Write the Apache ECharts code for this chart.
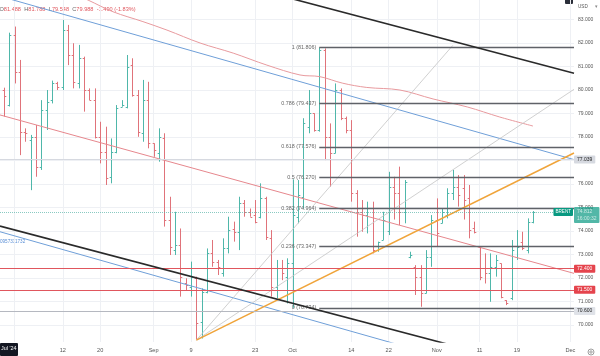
<!DOCTYPE html>
<html><head><meta charset="utf-8">
<script src="https://cdn.jsdelivr.net/npm/echarts@6/dist/echarts.min.js"></script>
<style>html,body{margin:0;padding:0;background:#fff}#c{width:600px;height:356px}</style>
</head><body><div id="c"></div>
<script>
// ---- bar data (one bar per session, index = position on the time axis) ----
const opens  = [80.00,79.36,82.34,80.78,78.23,77.87,78.01,76.74,79.15,79.57,80.28,80.14,82.55,81.49,80.28,81.35,80.00,79.57,78.01,77.38,76.31,77.38,79.29,79.29,81.06,79.79,78.16,79.57,77.73,77.31,77.94,74.49,73.19,73.41,71.77,71.63,71.99,70.14,71.42,73.05,72.70,72.20,73.26,74.10,73.97,75.18,74.82,74.68,74.61,75.39,73.69,71.63,72.41,72.06,72.62,74.61,75.46,78.44,79.01,78.30,81.70,78.01,77.31,79.99,78.80,78.30,75.60,74.82,74.68,74.96,73.19,73.62,74.00,75.89,75.60,74.82,72.90,72.48,72.06,71.35,72.91,74.47,74.33,74.68,75.60,75.89,75.82,75.39,74.11,73.33,72.41,72.20,72.48,72.62,71.06,71.14,72.91,73.55,73.19,74.40];
const highs  = [80.10,82.44,82.70,81.28,78.37,78.09,78.51,79.57,80.00,80.40,80.35,82.98,82.77,81.99,81.92,81.42,80.07,80.07,78.65,78.44,77.94,79.36,79.57,81.49,81.35,80.00,80.43,80.35,77.73,78.37,78.16,75.46,74.82,74.11,71.99,72.70,72.06,71.56,73.26,73.62,72.77,73.69,74.61,74.40,75.46,75.32,74.96,75.32,76.03,75.46,74.04,72.77,72.77,72.84,76.20,76.17,78.80,80.00,79.01,81.806,81.77,78.58,80.28,80.07,78.87,78.72,75.74,75.32,75.25,75.25,73.55,74.82,76.52,76.31,76.74,76.17,73.12,72.55,72.55,73.19,74.68,75.39,74.96,75.82,76.60,76.38,76.38,75.96,74.40,73.33,73.05,73.05,72.98,72.62,71.06,73.62,74.04,73.97,74.54,74.85];
const lows   = [78.87,79.30,80.28,77.23,77.80,75.74,76.31,76.60,78.30,79.43,80.00,80.00,81.06,80.07,80.07,79.08,79.57,77.94,76.88,75.96,76.03,77.31,79.29,79.22,79.72,78.01,77.80,77.52,77.16,76.95,74.19,72.98,72.98,71.21,71.49,71.21,69.40,69.43,71.35,72.48,72.13,72.06,73.05,73.55,73.19,74.61,74.61,74.33,74.54,73.62,71.21,71.14,71.91,70.92,70.734,74.33,74.96,78.16,78.23,78.23,77.02,75.89,77.31,78.72,78.16,75.25,73.76,73.97,73.90,73.05,73.12,73.62,73.83,74.49,74.26,74.33,72.84,71.28,70.78,71.35,72.48,73.33,74.33,74.54,75.32,75.04,74.49,73.69,73.90,71.91,71.77,70.99,72.06,71.14,70.85,71.06,72.77,73.19,73.05,74.33];
const closes = [79.75,82.34,80.78,78.23,78.16,78.01,76.74,79.15,79.50,80.28,80.14,82.55,81.49,80.35,81.35,80.00,79.57,78.01,77.38,76.24,77.38,79.22,79.36,80.99,79.79,78.23,79.57,77.73,77.45,78.01,74.49,73.33,73.41,72.06,71.70,72.06,70.07,71.42,73.05,72.70,72.48,73.26,74.04,73.97,75.18,74.82,74.61,74.40,75.39,73.76,71.63,72.41,72.20,72.62,74.68,75.53,78.58,79.01,78.30,81.70,78.01,77.31,79.99,78.80,78.30,75.60,74.82,74.68,74.96,73.19,73.55,74.49,75.89,75.60,74.82,76.10,73.00,72.06,71.35,72.91,74.47,73.90,74.82,75.60,75.89,75.53,75.32,74.04,73.97,72.06,72.20,72.48,72.77,71.21,70.92,73.19,73.33,73.26,74.40,74.812];

// ---- axis ticks ----
const tickIndex  = [11,18,28,35,47,54,65,72,81,89,96,106];
const tickLabels = ['12','20','Sep','9','23','Oct','14','22','Nov','11','19','Dec'];
const vGridIndex = [2,11,18,28,35,47,54,65,72,81,89,96,106];
const priceTicks = [70,71,72,73,74,75,76,77,78,79,80,81,82,83];

// ---- moving average: [bar index, price] ----
const maPoints = [[11,84.3],[15.7,83.83],[20.4,83.33],[26.0,82.91],[30.5,82.55],[36.7,82.0],[42.9,81.57],[49.2,81.06],[55.4,80.64],[59.1,80.57],[63.4,80.29],[67.9,80.11],[74.1,80.0],[80.3,79.62],[86.7,79.28],[92.8,78.85],[99,78.468]];

// ---- drawings: [bar index, price] endpoints ----
const channelUpper = [[-0.75,87.17],[106.68,80.71]];
const channelLower = [[-0.75,74.21],[106.68,67.77]];
const blueUpper    = [[-0.75,83.99],[106.68,77.039]];
const blueLower    = [[-0.75,73.97],[106.68,67.05]];
const pinkLine     = [[-0.75,78.94],[106.68,72.20]];
const orangeLine   = [[36,69.36],[106.68,77.32]];
const greySteep    = [[36,69.36],[84,81.9]];
const greyMild     = [[36,69.36],[106.68,80.03]];

// ---- levels ----
const fibLabels = ['1','0.786','0.618','0.5','0.382','0.236','0'];
const fibValues = [81.806,79.437,77.576,76.270,74.964,73.347,70.734];
const fibStart = 59;
const redLevels = [72.4,71.5];
const greyLevel = 70.6;
const blueLevel = 77.039;
const maLast = 78.468;
const lastPrice = 74.812;
const countdown = '16:00:32';
const header = {O:'81.488',H:'81.788',L:'79.548',C:'79.988',chg:'-1.490 (-1.83%)'};

const UP='#4fb7aa', DOWN='#e0737a';
const FONT='Liberation Sans, Arial, sans-serif';
const XMAX=106.68;

const chart = echarts.init(document.getElementById('c'), null, {renderer:'canvas'});

function trend(data, color, width, z){
  return {type:'line', data, symbol:'none', silent:true, z:z||4, clip:true,
    lineStyle:{color, width}, animation:false};
}

const boxLabel = (text,bg,fg) => ({show:true, position:'end', distance:0, formatter:text,
  backgroundColor:bg, color:fg, fontSize:5, fontFamily:FONT, padding:[1.5,3,1.5,3], borderRadius:1});

const option = {
  animation:false,
  backgroundColor:'#fff',
  grid:{left:0, right:600-574, top:0, bottom:14},
  xAxis:{type:'value', min:-0.75, max:XMAX,
    axisLine:{show:false}, axisTick:{show:false, customValues:vGridIndex},
    splitLine:{show:true, lineStyle:{color:'#eef0f4', width:1}},
    axisLabel:{customValues:tickIndex, fontSize:5.6, color:'#555', margin:5, fontFamily:FONT,
      formatter:v=>{const k=tickIndex.indexOf(Math.round(v)); return k>=0?tickLabels[k]:'';}}},
  yAxis:{type:'value', position:'right', min:69.28, max:83.83,
    axisLine:{show:false}, axisTick:{show:false, customValues:priceTicks},
    splitLine:{show:true, lineStyle:{color:'#eef0f4', width:1}},
    axisLabel:{customValues:priceTicks, formatter:v=>v.toFixed(3), fontSize:5, color:'#555', margin:4, fontFamily:FONT}},
  series:[
    {type:'custom', z:2, clip:true, silent:true,
      data: opens.map((o,i)=>[i,o,highs[i],lows[i],closes[i]]),
      encode:{x:0, y:[1,2,3,4]},
      renderItem:(params, api)=>{
        const i=api.value(0), o=api.value(1), h=api.value(2), l=api.value(3), c=api.value(4);
        const pH=api.coord([i,h]), pL=api.coord([i,l]), pO=api.coord([i,o]), pC=api.coord([i,c]);
        const x=Math.round(pH[0])+0.5;
        const col = c>=o?UP:DOWN;
        const st={stroke:col, lineWidth:1};
        return {type:'group', children:[
          {type:'line', shape:{x1:x,y1:pH[1],x2:x,y2:pL[1]}, style:st},
          {type:'line', shape:{x1:x-1.8,y1:Math.round(pO[1])+0.5,x2:x,y2:Math.round(pO[1])+0.5}, style:st},
          {type:'line', shape:{x1:x,y1:Math.round(pC[1])+0.5,x2:x+1.8,y2:Math.round(pC[1])+0.5}, style:st}
        ]};
      }},
    {type:'line', data:maPoints, smooth:0.35, symbol:'none', silent:true, z:3,
      lineStyle:{color:'#e89a9e', width:1}},
    trend(pinkLine,'#e6878d',1,3),
    trend(blueUpper,'#6f9fd8',1,3),
    trend(blueLower,'#6f9fd8',1,3),
    trend(greySteep,'#c4c4c4',0.8,3),
    trend(greyMild,'#c4c4c4',0.8,3),
    trend(orangeLine,'#f0a43a',1.5,4),
    trend(channelUpper,'#2a2a2a',1.6,5),
    trend(channelLower,'#2a2a2a',1.6,5),
    // horizontal levels and right-hand price labels
    {type:'line', data:[], z:4, silent:true,
      markLine:{silent:true, symbol:['none','none'], animation:false,
        data:[
          {yAxis:blueLevel, lineStyle:{color:'#d6d9e0', width:1, type:'solid'}, label:boxLabel(blueLevel.toFixed(3),'#d6d9e0','#222')},
          {yAxis:maLast, lineStyle:{opacity:0}, label:boxLabel(maLast.toFixed(3),'#e5444d','#fff')},
          {yAxis:redLevels[0], lineStyle:{color:'#e0565d', width:1, type:'solid'}, label:boxLabel(redLevels[0].toFixed(3),'#e5444d','#fff')},
          {yAxis:redLevels[1], lineStyle:{color:'#e0565d', width:1, type:'solid'}, label:boxLabel(redLevels[1].toFixed(3),'#e5444d','#fff')},
          {yAxis:greyLevel, lineStyle:{color:'#b5b8c0', width:1, type:'solid'}, label:boxLabel(greyLevel.toFixed(3),'#dfe2e8','#222')},
          {yAxis:lastPrice, lineStyle:{color:'#59b3a8', width:1, type:'dotted', opacity:0.7},
            label:Object.assign(boxLabel(lastPrice.toFixed(3)+'\n'+countdown,'#089981','#fff'),{lineHeight:6.5, offset:[0,3]})}
        ]},
      markPoint:{silent:true, animation:false, symbol:'rect', symbolSize:0,
        data:[{coord:[XMAX,lastPrice], label:{show:true, position:'left', distance:1, formatter:'BRENT',
          backgroundColor:'#089981', color:'#fff', fontSize:4.6, fontFamily:FONT, padding:[1.5,2,1.5,2], borderRadius:1}}]}
    },
    // fibonacci retracement
    {type:'line', data:[], z:5, silent:true,
      markLine:{silent:true, symbol:['none','none'], animation:false,
        lineStyle:{color:'#5f6268', width:1.3, type:'solid'},
        data: fibValues.map((v,k)=>[
          {coord:[fibStart,v], label:{show:true, position:'start', distance:3,
            formatter:fibLabels[k]+' ('+v.toFixed(3)+')', color:'#666', fontSize:5.4, fontFamily:FONT, padding:[0,0,10,0]}},
          {coord:[XMAX,v]}
        ])}
    }
  ],
  graphic:[
    {type:'text', left:-0.5, top:3.5, silent:true, style:{
      text:'{l|O}{v|'+header.O+'} {l|H}{v|'+header.H+'} {l|L}{v|'+header.L+'} {l|C}{v|'+header.C+'} {v|'+header.chg+'}',
      rich:{l:{fill:'#666', fontSize:5.6, fontFamily:FONT}, v:{fill:'#e0575e', fontSize:5.6, fontFamily:FONT}}}},
    {type:'text', left:0, top:239.5, silent:true, style:{text:'0957311732', fill:'#5a8fd6', fontSize:4.6, fontFamily:FONT}},
    {type:'rect', left:0, top:343, shape:{width:18, height:13, r:1}, style:{fill:'#131722'}, silent:true},
    {type:'text', left:1, top:346.5, silent:true, style:{text:"Jul '24", fill:'#fff', fontSize:5.4, fontFamily:FONT}},
    {type:'text', left:578, top:4.5, silent:true, style:{text:'USD', fill:'#555', fontSize:4.6, fontFamily:FONT}},
    {type:'text', left:595, top:4.5, silent:true, style:{text:'▾', fill:'#888', fontSize:4.6, fontFamily:FONT}},
    {type:'rect', left:565, top:-1, shape:{width:8, height:5, r:1}, style:{fill:'#2a2e39'}, silent:true},
    {type:'circle', left:585.5, top:346.5, shape:{r:3}, style:{fill:'none', stroke:'#888', lineWidth:0.8}, silent:true},
    {type:'circle', left:587.3, top:348.3, shape:{r:1.2}, style:{fill:'none', stroke:'#888', lineWidth:0.8}, silent:true}
  ]
};
chart.setOption(option);
</script></body></html>
